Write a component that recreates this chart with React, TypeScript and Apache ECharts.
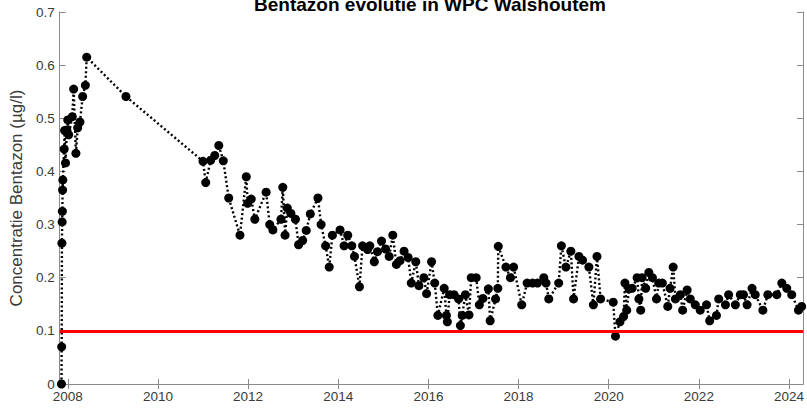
import React, { useEffect, useRef } from "react";
import * as echarts from "echarts";

const title = "Bentazon evolutie in WPC Walshoutem";
const yAxisName = "Concentratie Bentazon (µg/l)";
const xTickYears = [2008, 2010, 2012, 2014, 2016, 2018, 2020, 2022, 2024];
const norm = 0.1;

// decimal years of the samples
const sampleYears = [
  2007.86, 2007.865, 2007.87, 2007.875, 2007.88, 2007.885, 2007.89, 2007.92, 2007.93, 2007.95,
  2007.98, 2008.0, 2008.02, 2008.1, 2008.13, 2008.18, 2008.22, 2008.27, 2008.33, 2008.39,
  2008.42, 2009.29, 2011.0, 2011.06, 2011.17, 2011.26, 2011.35, 2011.45, 2011.57, 2011.82,
  2011.96, 2011.99, 2012.07, 2012.15, 2012.4, 2012.48, 2012.55, 2012.73, 2012.77, 2012.82,
  2012.87, 2012.95, 2013.05, 2013.12, 2013.21, 2013.29, 2013.38, 2013.55, 2013.62, 2013.72,
  2013.8, 2013.87, 2014.04, 2014.13, 2014.21, 2014.3, 2014.36, 2014.47, 2014.54, 2014.65,
  2014.7, 2014.8, 2014.87, 2014.96, 2015.05, 2015.13, 2015.21, 2015.29, 2015.37, 2015.46,
  2015.55, 2015.62, 2015.72, 2015.79, 2015.9, 2015.96, 2016.07, 2016.14, 2016.21, 2016.35,
  2016.4, 2016.42, 2016.47, 2016.57, 2016.67, 2016.71, 2016.75, 2016.82, 2016.9, 2016.95,
  2017.06, 2017.13, 2017.21, 2017.33, 2017.37, 2017.49, 2017.54, 2017.55, 2017.72, 2017.82,
  2017.89, 2018.07, 2018.19, 2018.31, 2018.42, 2018.56, 2018.61, 2018.67, 2018.89, 2018.95,
  2019.05, 2019.16, 2019.22, 2019.34, 2019.42, 2019.56, 2019.66, 2019.74, 2019.82, 2020.1,
  2020.15, 2020.25, 2020.33, 2020.36, 2020.4, 2020.45, 2020.52, 2020.63, 2020.67, 2020.71,
  2020.74, 2020.82, 2020.89, 2020.97, 2021.06, 2021.11, 2021.19, 2021.31, 2021.36, 2021.43,
  2021.48, 2021.59, 2021.64, 2021.74, 2021.81, 2021.92, 2022.03, 2022.17, 2022.24, 2022.39,
  2022.44, 2022.59, 2022.66, 2022.81, 2022.92, 2022.99, 2023.07, 2023.18, 2023.25, 2023.42,
  2023.53, 2023.73, 2023.84, 2023.95, 2024.06, 2024.21, 2024.28,
];

// Bentazon concentration (µg/l)
const concentrations = [
  0.0, 0.07, 0.265, 0.305, 0.325, 0.365, 0.384, 0.442, 0.477, 0.416,
  0.478, 0.497, 0.469, 0.503, 0.555, 0.434, 0.482, 0.493, 0.541, 0.562,
  0.615, 0.541, 0.419, 0.379, 0.421, 0.43, 0.449, 0.42, 0.35, 0.28,
  0.39, 0.34, 0.348, 0.31, 0.361, 0.3, 0.29, 0.31, 0.37, 0.28,
  0.331, 0.321, 0.31, 0.262, 0.27, 0.289, 0.32, 0.35, 0.3, 0.26,
  0.22, 0.28, 0.29, 0.26, 0.28, 0.26, 0.24, 0.183, 0.26, 0.253,
  0.26, 0.23, 0.249, 0.269, 0.254, 0.24, 0.28, 0.225, 0.232, 0.25,
  0.238, 0.19, 0.23, 0.185, 0.2, 0.17, 0.23, 0.19, 0.129, 0.18,
  0.129, 0.117, 0.168, 0.168, 0.16, 0.11, 0.129, 0.168, 0.13, 0.2,
  0.2, 0.149, 0.161, 0.179, 0.119, 0.16, 0.18, 0.259, 0.22, 0.2,
  0.22, 0.149, 0.19, 0.19, 0.19, 0.2, 0.19, 0.16, 0.19, 0.26,
  0.22, 0.25, 0.16, 0.24, 0.233, 0.22, 0.149, 0.24, 0.16, 0.154,
  0.09, 0.117, 0.127, 0.19, 0.139, 0.179, 0.18, 0.2, 0.16, 0.139,
  0.2, 0.18, 0.21, 0.2, 0.16, 0.19, 0.19, 0.146, 0.18, 0.22,
  0.16, 0.168, 0.139, 0.177, 0.16, 0.149, 0.139, 0.149, 0.119, 0.129,
  0.16, 0.149, 0.168, 0.149, 0.168, 0.168, 0.149, 0.18, 0.168, 0.139,
  0.168, 0.168, 0.19, 0.18, 0.168, 0.139, 0.146,
];

const X_MIN = 2007.82;
const X_MAX = 2024.31;
const FONT = "'Liberation Sans', Arial, Helvetica, sans-serif";
const AXIS_COLOR = "#8a8a8a";
const LABEL_COLOR = "#3a3a3a";

export default function App() {
  const ref = useRef<HTMLDivElement>(null);

  useEffect(() => {
    if (!ref.current) return;
    const chart = echarts.init(ref.current, null, { renderer: "svg" });
    const points = sampleYears.map((y, i) => [y, concentrations[i]]);

    const xBase = {
      type: "value",
      min: X_MIN,
      max: X_MAX,
      splitLine: { show: false },
      axisLine: { show: true, lineStyle: { color: AXIS_COLOR, width: 1 } },
    };
    const yBase = {
      type: "value",
      min: 0,
      max: 0.7,
      interval: 0.1,
      splitLine: { show: false },
      axisLine: { show: true, lineStyle: { color: AXIS_COLOR, width: 1 } },
      axisTick: { show: true, inside: true, length: 6, lineStyle: { color: AXIS_COLOR } },
    };

    chart.setOption({
      animation: false,
      backgroundColor: "#ffffff",
      graphic: [
        {
          type: "text",
          x: 430,
          y: 14,
          style: {
            text: title,
            font: `bold 19px ${FONT}`,
            fill: "#000000",
            align: "center",
            verticalAlign: "bottom",
          },
        },
      ],
      grid: { left: 57, right: 4, top: 12, bottom: 24, containLabel: false },
      xAxis: [
        {
          ...xBase,
          position: "bottom",
          axisTick: {
            show: true,
            inside: true,
            length: 5,
            customValues: xTickYears,
            lineStyle: { color: AXIS_COLOR },
          },
          axisLabel: {
            show: true,
            customValues: xTickYears,
            margin: 5,
            color: LABEL_COLOR,
            fontSize: 13.5,
            fontFamily: FONT,
            formatter: (v: number) => String(Math.round(v)),
          },
        },
        {
          ...xBase,
          position: "top",
          axisTick: {
            show: true,
            inside: true,
            length: 5,
            customValues: xTickYears,
            lineStyle: { color: AXIS_COLOR },
          },
          axisLabel: { show: false },
        },
      ],
      yAxis: [
        {
          ...yBase,
          position: "left",
          name: yAxisName,
          nameLocation: "middle",
          nameGap: 27,
          nameTextStyle: { color: LABEL_COLOR, fontSize: 17, fontFamily: FONT },
          axisLabel: {
            show: true,
            margin: 5,
            color: LABEL_COLOR,
            fontSize: 13.5,
            fontFamily: FONT,
            formatter: (v: number) => String(+v.toFixed(1)),
          },
        },
        {
          ...yBase,
          position: "right",
          axisLabel: { show: false },
        },
      ],
      series: [
        {
          type: "line",
          name: "norm",
          data: [],
          z: 1,
          silent: true,
          markLine: {
            silent: true,
            symbol: "none",
            label: { show: false },
            lineStyle: { color: "#ff0000", width: 3, type: "solid" },
            data: [{ yAxis: norm }],
          },
        },
        {
          type: "line",
          name: "Bentazon",
          data: points,
          z: 3,
          symbol: "circle",
          symbolSize: 9,
          showSymbol: true,
          clip: false,
          itemStyle: { color: "#000000" },
          lineStyle: { color: "#000000", width: 2.4, type: [2, 2.5] },
        },
      ],
    });

    return () => chart.dispose();
  }, []);

  return (
    <div
      ref={ref}
      style={{ position: "fixed", left: 0, top: 0, width: 807, height: 408, background: "#fff" }}
    />
  );
}
